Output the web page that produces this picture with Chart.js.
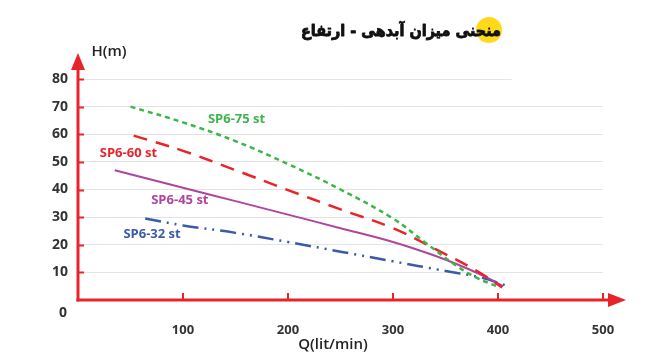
<!DOCTYPE html>
<html>
<head>
<meta charset="utf-8">
<script src="https://cdn.jsdelivr.net/npm/chart.js@4/dist/chart.umd.min.js"></script>
<style>
html,body{margin:0;padding:0;background:#fff;}
#wrap{width:671px;height:359px;position:relative;}
</style>
</head>
<body>
<div id="wrap"><canvas id="c"></canvas></div>
<script>
// ---- data ----
const titleText = 'منحنی میزان آبدهی - ارتفاع';
const xTicks = [0,100,200,300,400,500];
const yTicks = [0,10,20,30,40,50,60,70,80];
const seriesNames = ['SP6-75 st','SP6-60 st','SP6-45 st','SP6-32 st'];
const q75 = [50,100,150,200,250,300,330,360,380,402];
const h75 = [70,64.3,57.5,49.2,40,29.5,21,12.5,8,4.5];
const q60 = [53,100,150,200,250,300,340,380,404];
const h60 = [59.5,54,47,39.8,32.8,26,18.5,10.5,4.5];
const q45 = [35,100,150,200,250,300,340,370,390,405];
const h45 = [47,40.6,35.8,30.9,26,21,16,11.5,8,5];
const q32 = [64,100,150,200,250,300,350,385,411];
const h32 = [29.5,27,24.3,21,17.5,14,10.5,8,4.8];
// label anchors (Q, H) for series names
const labelQ = [151,48,97,70.5];
const labelH = [65.5,53.2,36.2,23.9];

const colors = ['#3db54a','#e8242a','#b0449f','#3b5ba9'];
const RED = '#e8242a';

function pts(q,h){return q.map((v,i)=>({x:v,y:h[i]}));}

const overlay = {
  id:'overlay',
  beforeDatasetsDraw(chart){
    const ctx=chart.ctx, x=chart.scales.x, y=chart.scales.y;
    ctx.save();
    ctx.strokeStyle='#e3e3e3';ctx.lineWidth=1;
    ctx.beginPath();
    const yy=Math.round(y.getPixelForValue(80))+0.5;
    ctx.moveTo(x.getPixelForValue(0),yy);ctx.lineTo(x.getPixelForValue(413),yy);ctx.stroke();
    ctx.restore();
  },
  afterDatasetsDraw(chart){
    const ctx=chart.ctx, x=chart.scales.x, y=chart.scales.y;
    const x0=x.getPixelForValue(0), y0=y.getPixelForValue(0);
    ctx.save();
    ctx.strokeStyle=RED;ctx.fillStyle=RED;ctx.lineWidth=3;
    ctx.beginPath();ctx.moveTo(x0,y0+1.5);ctx.lineTo(x0,69);ctx.stroke();
    ctx.beginPath();ctx.moveTo(x0,53);ctx.lineTo(x0-7,70);ctx.lineTo(x0+7,70);ctx.closePath();ctx.fill();
    ctx.beginPath();ctx.moveTo(x0-1.5,y0);ctx.lineTo(609,y0);ctx.stroke();
    ctx.beginPath();ctx.moveTo(626,y0);ctx.lineTo(608,y0-7);ctx.lineTo(608,y0+7);ctx.closePath();ctx.fill();
    ctx.lineWidth=2;
    yTicks.forEach(v=>{if(!v)return;const p=Math.round(y.getPixelForValue(v))+0.5;ctx.beginPath();ctx.moveTo(x0,p);ctx.lineTo(x0+6,p);ctx.stroke();});
    xTicks.forEach(v=>{if(!v)return;const p=Math.round(x.getPixelForValue(v));ctx.beginPath();ctx.moveTo(p,y0);ctx.lineTo(p,y0-7);ctx.stroke();});
    ctx.fillStyle='#333';ctx.font='bold 14px "Open Sans"';ctx.textAlign='center';ctx.textBaseline='middle';
    ctx.fillText('0',63,313);
    ctx.font='600 15px "Open Sans"';ctx.fillStyle='#222';
    ctx.fillText('H(m)',109,52);
    ctx.fillText('Q(lit/min)',333,345);
    ctx.font='bold 13px "Open Sans"';
    seriesNames.forEach((n,i)=>{ctx.fillStyle=colors[i];ctx.fillText(n,x.getPixelForValue(labelQ[i]),y.getPixelForValue(labelH[i]));});
    ctx.fillStyle='#ffd91a';ctx.beginPath();ctx.arc(489,30,13,0,Math.PI*2);ctx.fill();
    ctx.fillStyle='#111';ctx.strokeStyle='#111';ctx.lineWidth=0.8;ctx.lineJoin='round';
    ctx.font='bold 16px "DejaVu Sans Condensed", "DejaVu Sans"';ctx.direction='rtl';ctx.textAlign='right';
    ctx.fillText(titleText,501,32);
    ctx.strokeText(titleText,501,32);
    ctx.restore();
  }
};

const mk=(i,q,h,extra)=>Object.assign({label:seriesNames[i],data:pts(q,h),borderColor:colors[i],borderWidth:2.5,pointRadius:0,fill:false,tension:0.4},extra);

new Chart(document.getElementById('c'),{
  type:'line',
  data:{datasets:[
    mk(0,q75,h75,{borderDash:[5,4]}),
    mk(1,q60,h60,{borderDash:[14,9]}),
    mk(2,q45,h45,{borderWidth:2}),
    mk(3,q32,h32,{borderDash:[16,6,2,6,2,6]})
  ]},
  options:{
    responsive:true,maintainAspectRatio:false,animation:false,
    layout:{padding:{left:0,right:68,top:79,bottom:0}},
    plugins:{legend:{display:false},tooltip:{enabled:false}},
    scales:{
      x:{type:'linear',min:0,max:500,
        afterFit(s){s.height=59;},
        afterBuildTicks(s){s.ticks=xTicks.map(v=>({value:v}));},
        grid:{display:false},border:{display:false},
        ticks:{padding:14,color:'#333',font:{family:'Open Sans',size:13,weight:'bold'},callback:v=>v===0?'':String(v),maxRotation:0}},
      y:{min:0,max:80,
        afterFit(s){s.width=78;},
        afterBuildTicks(s){s.ticks=yTicks.map(v=>({value:v}));},
        grid:{color:c=>c.tick&&c.tick.value===80?'rgba(0,0,0,0)':'#e3e3e3',drawTicks:false,lineWidth:1},border:{display:false},
        ticks:{padding:10,color:'#333',font:{family:'Open Sans',size:14,weight:'bold'},callback:v=>v===0?'':String(v)}}
    }
  },
  plugins:[overlay]
});
</script>
</body>
</html>
